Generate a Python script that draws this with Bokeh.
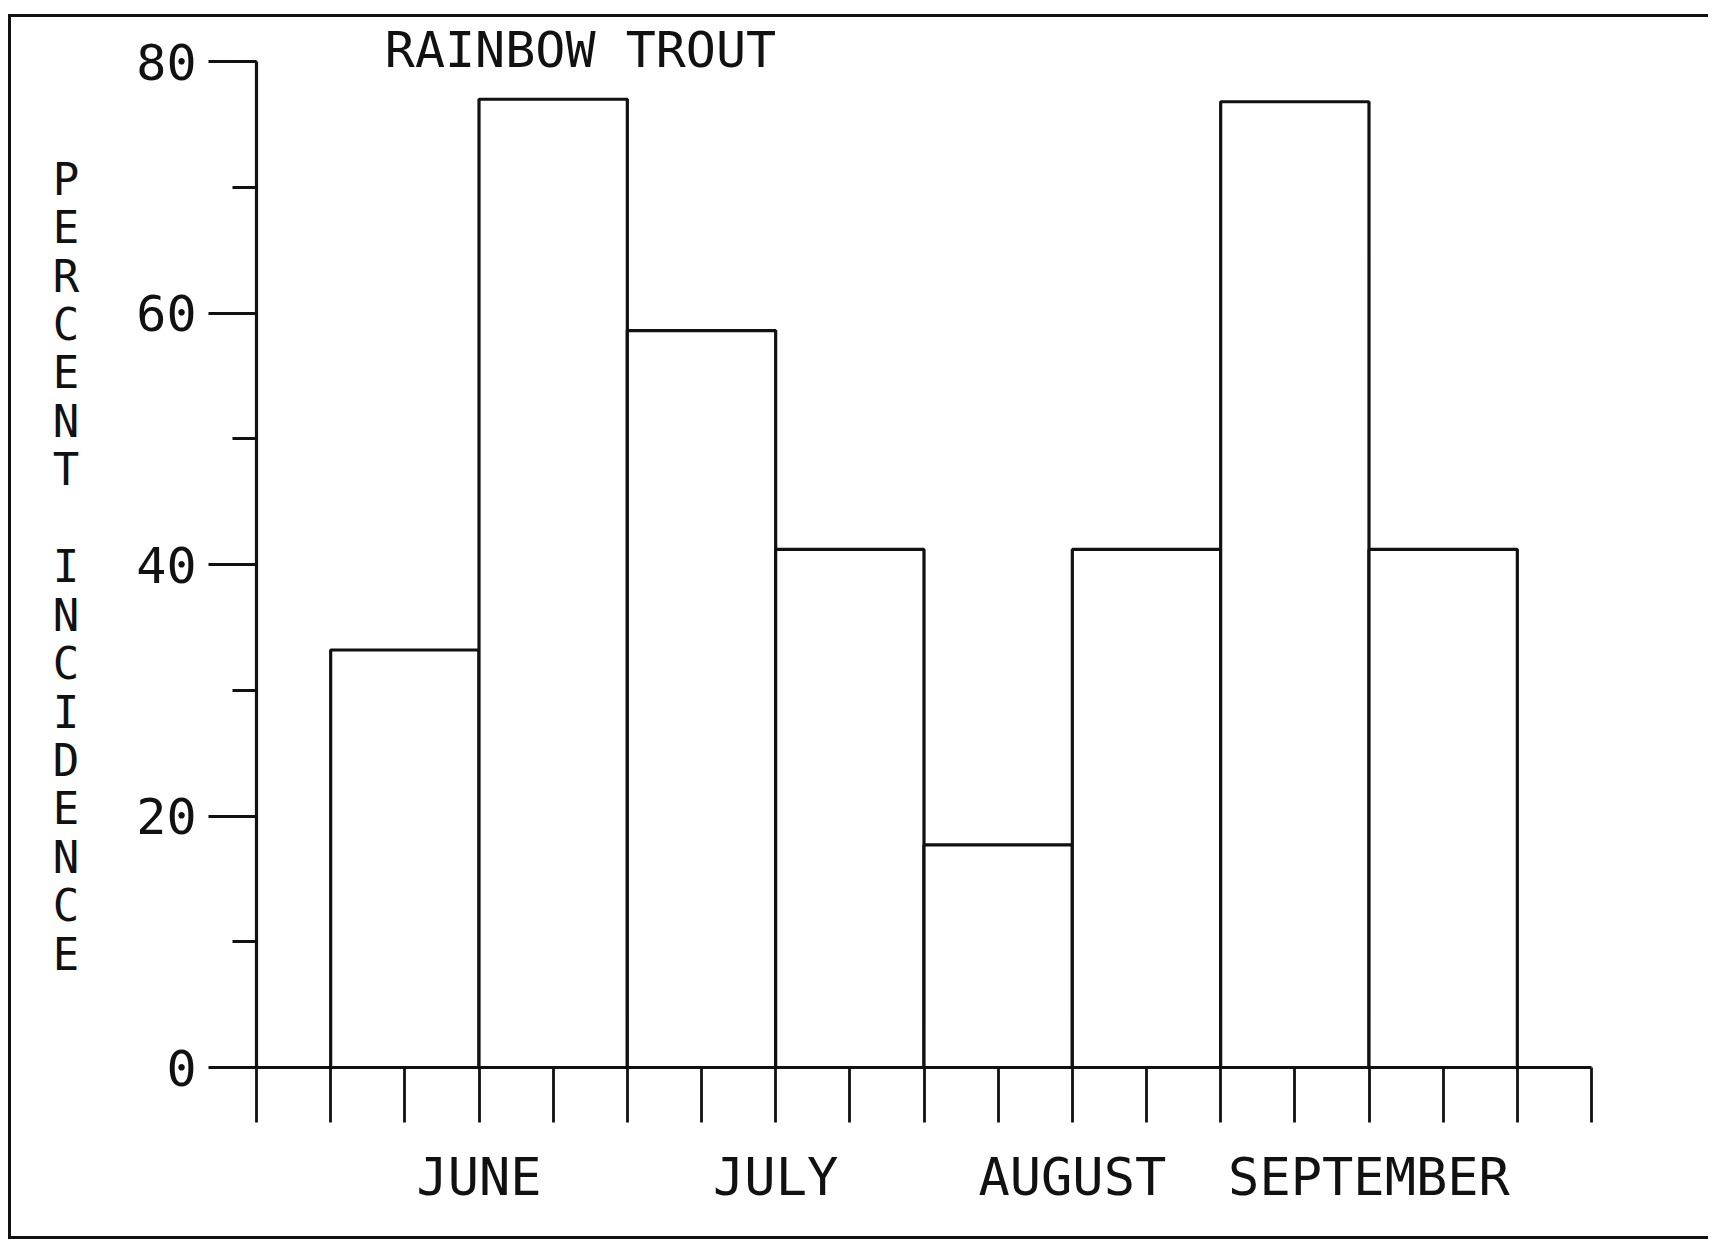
from bokeh.plotting import figure
from bokeh.models import FixedTicker, SingleIntervalTicker, Label, Range1d
from bokeh.embed import file_html
from bokeh.resources import INLINE

# ---- data ----
months = ["JUNE", "JULY", "AUGUST", "SEPTEMBER"]
bars_per_month = 2
incidence = [33.2, 77.0, 58.6, 41.2, 17.7, 41.2, 76.8, 41.2]
y_ticks_major = [0, 20, 40, 60, 80]
title_text = "RAINBOW TROUT"
y_label_text = "PERCENT INCIDENCE"

# bar slots: each bar is 2 tick intervals wide, starting at tick 1
n = len(incidence)
left = [1 + 2 * i for i in range(n)]
right = [l + 2 for l in left]
x_max = right[-1] + 1
month_pos = [1 + 2 * bars_per_month * k + bars_per_month for k in range(len(months))]

FONT = "DejaVu Sans Mono"
INK = "#111111"

p = figure(width=1700, height=1225,
           x_range=Range1d(0, x_max), y_range=Range1d(0, 83.5),
           output_backend="svg", toolbar_location=None,
           min_border_left=245, min_border_right=120,
           min_border_top=0, min_border_bottom=175)
p.styles = {"border-left": "3px solid #111", "border-top": "3px solid #111",
            "border-bottom": "3px solid #111",
            "margin-top": "14px", "margin-left": "8px"}
p.outline_line_color = None
p.grid.grid_line_color = None
p.background_fill_color = "white"
p.border_fill_color = "white"

p.quad(left=left, right=right, bottom=0, top=incidence,
       fill_color="white", line_color=INK, line_width=3.2)

# y axis
ya = p.yaxis[0]
ya.bounds = (y_ticks_major[0], y_ticks_major[-1])
ya.ticker = SingleIntervalTicker(interval=20, num_minor_ticks=2)
ya.axis_line_width = 3.2
ya.axis_line_color = INK
ya.major_tick_line_width = 2.8
ya.major_tick_line_color = INK
ya.minor_tick_line_width = 2.8
ya.minor_tick_line_color = INK
ya.major_tick_out = 48
ya.major_tick_in = 0
ya.minor_tick_out = 24
ya.minor_tick_in = 0
ya.major_label_standoff = 12
ya.major_label_text_font = FONT
ya.major_label_text_font_size = "50px"
ya.major_label_text_color = INK
ya.axis_label = " \n" + "\n".join(list(y_label_text))
ya.axis_label_orientation = "horizontal"
ya.axis_label_text_font = FONT
ya.axis_label_text_font_size = "44px"
ya.axis_label_text_font_style = "normal"
ya.axis_label_text_color = INK
ya.axis_label_text_line_height = 0.95
ya.axis_label_standoff = 54

# x axis
xa = p.xaxis[0]
xa.ticker = FixedTicker(ticks=list(range(0, x_max + 1)))
overrides = {i: "" for i in range(0, x_max + 1)}
for m, pos in zip(months, month_pos):
    overrides[pos] = m
xa.major_label_overrides = overrides
xa.axis_line_width = 3.2
xa.axis_line_color = INK
xa.major_tick_line_width = 2.8
xa.major_tick_line_color = INK
xa.major_tick_out = 55
xa.major_tick_in = 0
xa.minor_tick_line_color = None
xa.major_label_standoff = 24
xa.major_label_text_font = FONT
xa.major_label_text_font_size = "52px"
xa.major_label_text_color = INK

# title
p.add_layout(Label(x=1.73, y=80.9, text=title_text, text_font=FONT,
                   text_font_size="50px", text_color=INK,
                   text_align="left", text_baseline="alphabetic"))

open("out.html", "w").write(file_html(p, INLINE))
